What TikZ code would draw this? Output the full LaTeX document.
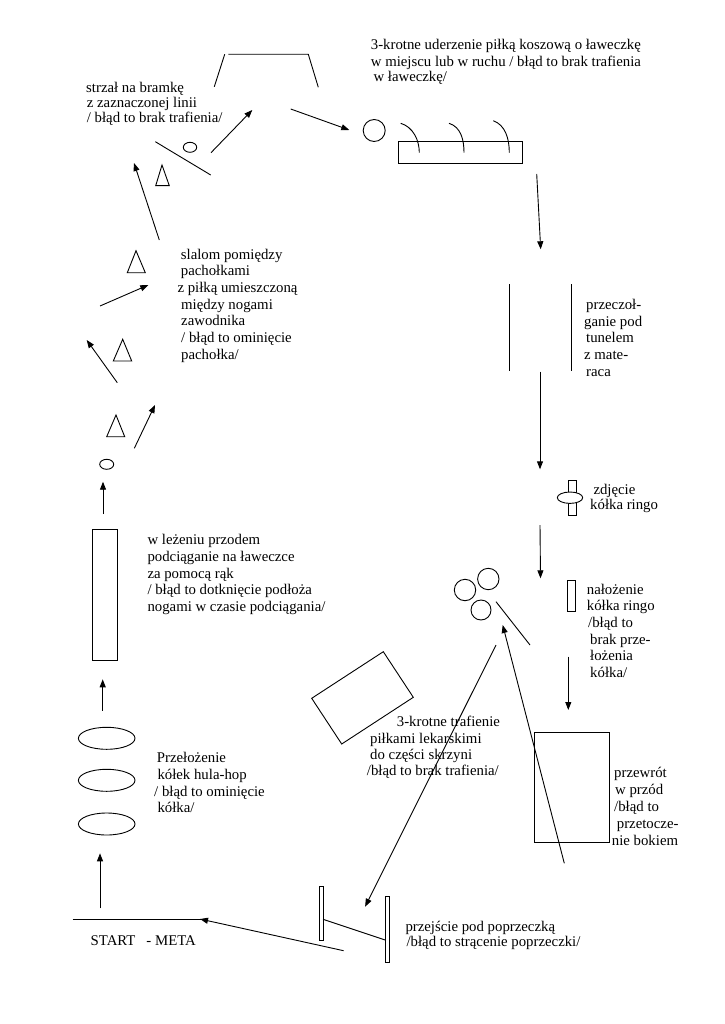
\documentclass[tikz,border=0pt]{standalone}
\usepackage{fontspec}
\setmainfont{Liberation Serif}
\usetikzlibrary{arrows.meta}
\tikzset{
  ln/.style={line width=0.9pt, black},
  arr/.style={ln, -{Triangle[length=8pt,width=6pt]}},
  lbl/.style={anchor=base west, inner sep=0pt, font=\fontsize{14.8}{16.7}\selectfont}
}
\newcommand{\mytxt}[3]{\node[lbl] at (#1,#2) {#3};}
\begin{document}
\begin{tikzpicture}[x=1pt,y=-1pt]
\useasboundingbox[fill=white] (0,0) rectangle (724,1024);

% ---- goal and shooting line
\draw[ln] (224.7,54.3) -- (214.3,86.7);
\draw[ln] (228.3,54.3) -- (308.3,54.3) -- (318.3,87.3);
\draw[ln] (155.3,141.7) -- (210.7,175);
\draw[ln] (190,147.3) ellipse [x radius=6.7, y radius=5];
\draw[ln] (162,165) -- (169.3,185.7) -- (155.7,185.7) -- cycle;

% ---- bench with ball
\draw[ln] (374.2,130.5) circle [radius=11];
\draw[ln] (398.3,141.7) rectangle (522.7,163.3);
\draw[ln] (400.7,123.3) .. controls (413,127) and (419.3,140) .. (419.3,152.7);
\draw[ln] (449,123.3) .. controls (461,127) and (464,140) .. (464,152.7);
\draw[ln] (493.3,120.7) .. controls (505,125) and (509.3,138) .. (509.3,152.7);

% ---- tunnel
\draw[ln] (509,284) -- (509,371);
\draw[ln] (571.7,284) -- (571.7,371);

% ---- ring off
\draw[ln] (568.3,480.7) rectangle (576,515);
\draw[ln, fill=white] (570,497.7) ellipse [x radius=12.7, y radius=5.7];

% ---- medicine balls and box
\draw[ln] (465,590) circle [radius=10.7];
\draw[ln] (488.3,579) circle [radius=10.7];
\draw[ln] (481,610) circle [radius=10];
\draw[ln] (496,601.7) -- (530,645);
\draw[ln] (311.7,698.3) -- (383.3,651.7) -- (413.3,697.3) -- (341.7,744) -- cycle;

% ---- ring on
\draw[ln] (567.7,580) rectangle (575,611.7);

% ---- forward roll mat
\draw[ln] (534,732.7) rectangle (609.3,842.7);

% ---- crossbar
\draw[ln] (319.5,886) rectangle (323.1,940);
\draw[ln] (385.2,896.7) rectangle (389.1,962.7);
\draw[ln] (323.1,919.3) -- (385.2,940);

% ---- start line
\draw[ln] (72.6,919) -- (201.8,919);

% ---- hula hoops
\draw[ln] (106.7,738.3) ellipse [x radius=28.3, y radius=11];
\draw[ln] (106.7,780.3) ellipse [x radius=28.3, y radius=11];
\draw[ln] (106.7,824) ellipse [x radius=28.3, y radius=11];

% ---- pull-up bench
\draw[ln] (92.3,529.3) rectangle (117.3,660.7);

% ---- slalom
\draw[ln] (106.7,464.3) ellipse [x radius=7, y radius=5];
\draw[ln] (116,415) -- (124.7,436.7) -- (106.7,436.7) -- cycle;
\draw[ln] (122.7,339.3) -- (131.7,361) -- (113.3,361) -- cycle;
\draw[ln] (136,250.7) -- (145.3,272.7) -- (127.3,272.7) -- cycle;

% ---- arrows
\draw[arr] (100,908.3) -- (100,853.3);
\draw[arr] (102.7,710.7) -- (102.7,679.3);
\draw[arr] (103,514) -- (103,481.7);
\draw[arr] (134.3,448.3) -- (155,405);
\draw[arr] (117.3,382.7) -- (86.7,340);
\draw[arr] (100,306) -- (148.3,285);
\draw[arr] (159.3,240) -- (134,163);
\draw[arr] (211,152.7) -- (252.3,110);
\draw[arr] (290.7,109) -- (349.3,130);
\draw[arr] (536.7,174) -- (540.7,249.3);
\draw[arr] (540,371.7) -- (540,469.3);
\draw[arr] (540,525) -- (540.5,578.3);
\draw[arr] (568.3,656.7) -- (568.3,710);
\draw[arr] (564.3,863.3) -- (502.7,625);
\draw[arr] (496,645) -- (365.1,906.7);
\draw[arr] (343.6,950.7) -- (200,919);

% ---- texts
\mytxt{86}{92.5}{strzał na bramkę}
\mytxt{86.7}{108}{z zaznaczonej linii}
\mytxt{86.7}{123}{/ błąd to brak trafienia/}

\mytxt{370.7}{50}{3-krotne uderzenie piłką koszową o ławeczkę}
\mytxt{370.7}{66.5}{w miejscu lub w ruchu / błąd to brak trafienia}
\mytxt{373.3}{82}{w ławeczkę/}

\mytxt{180.7}{259}{slalom pomiędzy}
\mytxt{180.7}{275.7}{pachołkami}
\mytxt{177.3}{292.3}{z piłką umieszczoną}
\mytxt{181}{309}{między nogami}
\mytxt{181}{325.7}{zawodnika}
\mytxt{181}{342.3}{/ błąd to ominięcie}
\mytxt{181}{359}{pachołka/}

\mytxt{586}{309.3}{przeczoł-}
\mytxt{584}{326}{ganie pod}
\mytxt{586}{342.7}{tunelem}
\mytxt{584}{359.3}{z mate-}
\mytxt{586}{376}{raca}

\mytxt{593.3}{494}{zdjęcie}
\mytxt{590}{509.3}{kółka ringo}

\mytxt{586.7}{594}{nałożenie}
\mytxt{586.7}{610.7}{kółka ringo}
\mytxt{588}{627.3}{/błąd to}
\mytxt{590}{644}{brak prze-}
\mytxt{590}{660.7}{łożenia}
\mytxt{590}{677.3}{kółka/}

\mytxt{614}{777.7}{przewrót}
\mytxt{615}{794.5}{w przód}
\mytxt{614}{811.3}{/błąd to}
\mytxt{616.7}{828}{przetocze-}
\mytxt{611.7}{845}{nie bokiem}

\mytxt{396.7}{726.7}{3-krotne trafienie}
\mytxt{370}{743.3}{piłkami lekarskimi}
\mytxt{370}{759}{do części skrzyni}
\mytxt{366.7}{775.7}{/błąd to brak trafienia/}

\mytxt{147.3}{544.5}{w leżeniu przodem}
\mytxt{147.3}{561}{podciąganie na ławeczce}
\mytxt{147.3}{578}{za pomocą rąk}
\mytxt{147.3}{594.5}{/ błąd to dotknięcie podłoża}
\mytxt{147.3}{611.5}{nogami w czasie podciągania/}

\mytxt{156.7}{762.8}{Przełożenie}
\mytxt{157.3}{779.5}{kółek hula-hop}
\mytxt{154}{796}{/ błąd to ominięcie}
\mytxt{157.3}{812.8}{kółka/}

\mytxt{90.5}{945}{START\hspace{11pt}- META}
\mytxt{405.3}{931}{przejście pod poprzeczką}
\mytxt{406.4}{946}{/błąd to strącenie poprzeczki/}
\end{tikzpicture}
\end{document}
